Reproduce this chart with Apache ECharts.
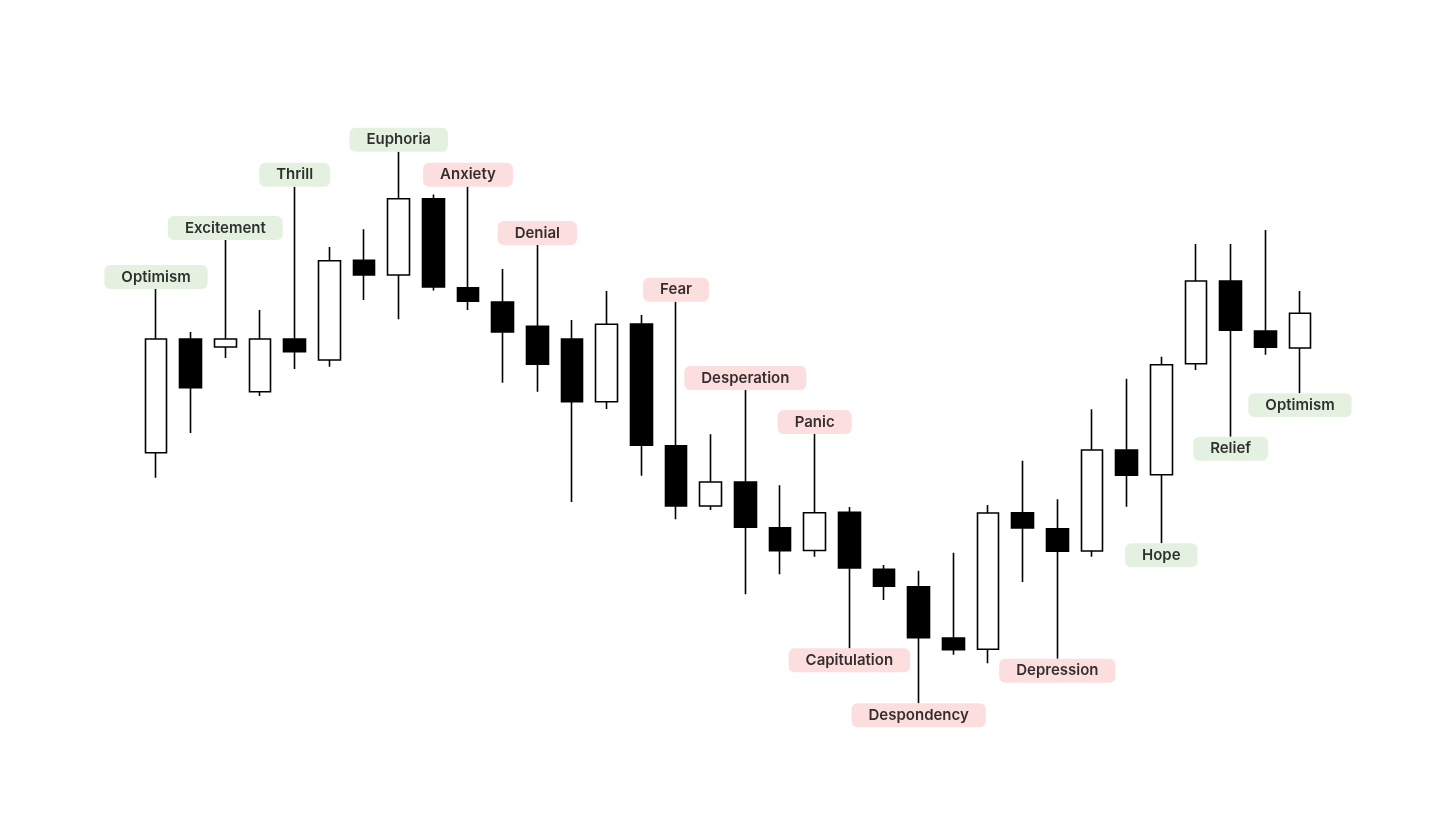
<!DOCTYPE html>
<html>
<head>
<meta charset="utf-8">
<script src="https://cdn.jsdelivr.net/npm/echarts@6/dist/echarts.min.js"></script>
<style>
html,body{margin:0;padding:0;background:#fff;}
#chart{width:1456px;height:819px;}
</style>
</head>
<body>
<div id="chart"></div>
<script>
// Candles: [open, close, low, high]
const opens  = [347.3,461,453,408.3,461,440,539.7,525,601.3,512.3,498,473.7,461,398.3,476,354.3,294,318,272.3,249.5,287.7,230.7,213.3,162,150.7,287.3,271.3,249,350,325.3,436.3,519,469,452];
const closes = [461,412.3,461,461,448.3,539.3,525,601.3,513,498.7,468,435.7,398.3,475.7,354.7,294,318,272.7,249.3,287.3,232,213.7,162.3,150.3,287,272,248.7,350,324.7,435.3,519,469.7,452.7,486.7];
const lows   = [322.3,367,442,404,431,433.3,500,480.7,509.5,490,417.3,408.3,298,391,324.3,280.7,290,205.7,225.7,243.3,151.7,200,96.7,145.3,136.7,218,141.3,243.3,293.3,256.7,430,363.3,445.3,406.7];
const highs  = [511,468,560,490,613.3,553,570.7,648.3,605.5,613.3,531,555,480,509,485,498.3,365.7,410,314.7,366,293,235,229.3,247.3,295,339.3,300.7,390.7,421.3,443.3,556,556,570,509];
const categories = opens.map((_, i) => 'D' + (i + 1));

// Annotations: candle index, text, side of the candle, mood
const labelIndex = [0,2,4,7,9,11,15,17,19,20,22,26,29,31,33];
const labelText  = ['Optimism','Excitement','Thrill','Euphoria','Anxiety','Denial','Fear','Desperation','Panic','Capitulation','Despondency','Depression','Hope','Relief','Optimism'];
const labelSide  = ['top','top','top','top','top','top','top','top','top','bottom','bottom','bottom','bottom','bottom','bottom'];
const labelMood  = ['pos','pos','pos','pos','neg','neg','neg','neg','neg','neg','neg','neg','pos','pos','pos'];

const candleData = opens.map((o, i) => [o, closes[i], lows[i], highs[i]]);
const moodColor = { pos: '#dfeed8', neg: '#fdd6d6' };

const labelData = labelIndex.map((idx, k) => ({
  value: [idx, labelSide[k] === 'top' ? highs[idx] : lows[idx]],
  label: {
    position: labelSide[k],
    formatter: labelText[k],
    backgroundColor: moodColor[labelMood[k]]
  }
}));

const chart = echarts.init(document.getElementById('chart'), null, { renderer: 'canvas' });
chart.setOption({
  animation: false,
  backgroundColor: '#ffffff',
  grid: { left: 138.67, right: 138.67, top: 0, bottom: 19 },
  xAxis: {
    type: 'category',
    data: categories,
    boundaryGap: true,
    show: false
  },
  yAxis: {
    type: 'value',
    min: 0,
    max: 800,
    show: false,
    splitLine: { show: false }
  },
  series: [
    {
      type: 'candlestick',
      data: candleData,
      barWidth: 22,
      itemStyle: {
        color: '#ffffff',
        color0: '#000000',
        borderColor: '#000000',
        borderColor0: '#000000',
        borderWidth: 1.6
      }
    },
    {
      type: 'scatter',
      data: labelData,
      symbolSize: 0,
      z: 5,
      label: {
        show: true,
        distance: 0,
        color: '#000000',
        fontFamily: 'Inter, "Noto Sans", sans-serif',
        fontSize: 15,
        fontWeight: 600,
        lineHeight: 16,
        padding: [4, 17, 4, 17],
        borderRadius: 6
      }
    }
  ]
});
</script>
</body>
</html>
